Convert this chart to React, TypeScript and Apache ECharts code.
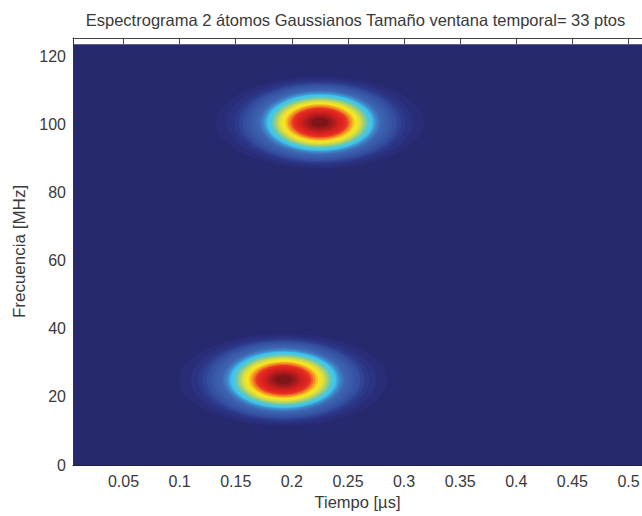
import React, { useEffect, useRef } from "react";
import * as echarts from "echarts";

const titleText = "Espectrograma 2 átomos Gaussianos Tamaño ventana temporal= 33 ptos";
const xTicks = [0.05, 0.1, 0.15, 0.2, 0.25, 0.3, 0.35, 0.4, 0.45, 0.5];
const yTicks = [0, 20, 40, 60, 80, 100, 120];

// Time and frequency span of the image
const imageSpan = [0.005, 0.512, 0, 123.5];

// Centres of the two atoms: time [us], frequency [MHz]
const atomCentres = [
  [0.225, 100.5],
  [0.1925, 25],
];

// Level sets, from the outside in
const levels = [0.025, 0.05, 0.075, 0.1, 0.125, 0.15, 0.175, 0.2, 0.225, 0.25, 0.275, 0.3, 0.325, 0.35, 0.375, 0.4, 0.425, 0.45, 0.475, 0.5, 0.525, 0.55, 0.575, 0.6, 0.625, 0.65, 0.675, 0.7, 0.725, 0.75, 0.775, 0.8, 0.825, 0.85, 0.875, 0.9, 0.925, 0.95, 0.975];
const halfTime = [0.0927, 0.0829, 0.0766, 0.0722, 0.0686, 0.065, 0.0624, 0.0597, 0.0575, 0.0552, 0.0535, 0.0517, 0.0499, 0.0484, 0.047, 0.0454, 0.0437, 0.0423, 0.041, 0.0396, 0.0383, 0.037, 0.0356, 0.0341, 0.0327, 0.0312, 0.0298, 0.0285, 0.0267, 0.0249, 0.0236, 0.022, 0.0205, 0.0187, 0.0169, 0.0151, 0.0131, 0.0107, 0.0076];
const halfFreq = [13.5, 12.8, 12.2, 11.7, 11.3, 10.9, 10.5, 10.2, 9.9, 9.6, 9.3, 9.0, 8.7, 8.4, 8.2, 7.9, 7.6, 7.4, 7.1, 6.9, 6.7, 6.4, 6.2, 5.9, 5.7, 5.4, 5.2, 5.0, 4.65, 4.35, 4.1, 3.8, 3.55, 3.25, 2.95, 2.65, 2.3, 1.85, 1.3];

const colormap = ["#27296f", "#2b3485", "#344f9f", "#3a5cab", "#3d66b2", "#3f88cb", "#3ec4ee", "#5cc9c4", "#a8cf6e", "#dcdf3e", "#f8e71f", "#f6a623", "#e93a24", "#df2420", "#cc1f1e", "#a01a1b", "#6a1214"];

export default function App() {
  const ref = useRef<HTMLDivElement>(null);
  useEffect(() => {
    document.body.style.margin = "0";
    const chart = echarts.init(ref.current!, undefined, { renderer: "svg" });
    const contourRows: number[][] = [];
    atomCentres.forEach(([t, f]) => {
      levels.forEach((lv, i) => contourRows.push([t, f, halfTime[i], halfFreq[i], lv]));
    });
    const font = "'Liberation Sans', Arial, sans-serif";
    const ink = "#3a3a3a";
    chart.setOption({
      animation: false,
      title: {
        text: titleText,
        left: 350.5,
        top: 6,
        textAlign: "center",
        textStyle: { fontFamily: font, fontSize: 16.5, fontWeight: "normal", color: ink },
      },
      grid: { left: 73, right: 0, top: 38, bottom: 51, outerBoundsMode: "none" },
      xAxis: [
        {
          type: "value",
          min: imageSpan[0],
          max: imageSpan[1],
          position: "bottom",
          name: "Tiempo [µs]",
          nameLocation: "middle",
          nameGap: 27,
          nameTextStyle: { fontFamily: font, fontSize: 16.5, color: ink },
          splitLine: { show: false },
          axisLine: { show: true, lineStyle: { color: "#222222", width: 1 } },
          axisTick: { show: false },
          axisLabel: { customValues: xTicks, margin: 8, fontFamily: font, fontSize: 16, color: ink, formatter: (v: number) => String(v) },
          z: 5,
        },
        {
          type: "value",
          min: imageSpan[0],
          max: imageSpan[1],
          position: "top",
          splitLine: { show: false },
          axisLine: { show: true, lineStyle: { color: "#444444", width: 1 } },
          axisTick: { show: true, inside: true, length: 6, customValues: xTicks, lineStyle: { color: "#444444", width: 1 } },
          axisLabel: { show: false },
          z: 5,
        },
      ],
      yAxis: {
        type: "value",
        min: 0,
        max: 125.3,
        name: "Frecuencia [MHz]",
        nameLocation: "middle",
        nameGap: 43,
        nameTextStyle: { fontFamily: font, fontSize: 17, color: ink },
        splitLine: { show: false },
        axisLine: { show: true, lineStyle: { color: "#333333", width: 1 } },
        axisTick: { show: false },
        axisLabel: { customValues: yTicks, margin: 7, fontFamily: font, fontSize: 16, color: ink },
        z: 5,
      },
      visualMap: {
        show: false,
        seriesIndex: 1,
        dimension: 4,
        min: 0,
        max: 1,
        inRange: { color: colormap },
      },
      series: [
        {
          type: "custom",
          name: "fondo",
          silent: true,
          data: [imageSpan],
          encode: { x: [0, 1], y: [2, 3] },
          renderItem: (_p: any, api: any) => {
            const a = api.coord([api.value(0), api.value(2)]);
            const b = api.coord([api.value(1), api.value(3)]);
            return {
              type: "rect",
              shape: { x: a[0], y: b[1], width: b[0] - a[0], height: a[1] - b[1] },
              style: { fill: colormap[0] },
            };
          },
        },
        {
          type: "custom",
          name: "Espectrograma",
          silent: true,
          data: contourRows,
          encode: { x: 0, y: 1 },
          renderItem: (_p: any, api: any) => {
            const c = api.coord([api.value(0), api.value(1)]);
            const e = api.coord([api.value(0) + api.value(2), api.value(1) + api.value(3)]);
            return {
              type: "ellipse",
              shape: { cx: c[0], cy: c[1], rx: e[0] - c[0], ry: c[1] - e[1] },
              style: { fill: api.visual("color") },
            };
          },
        },
      ],
    });
    return () => chart.dispose();
  }, []);
  return <div ref={ref} style={{ width: 642, height: 516 }} />;
}
